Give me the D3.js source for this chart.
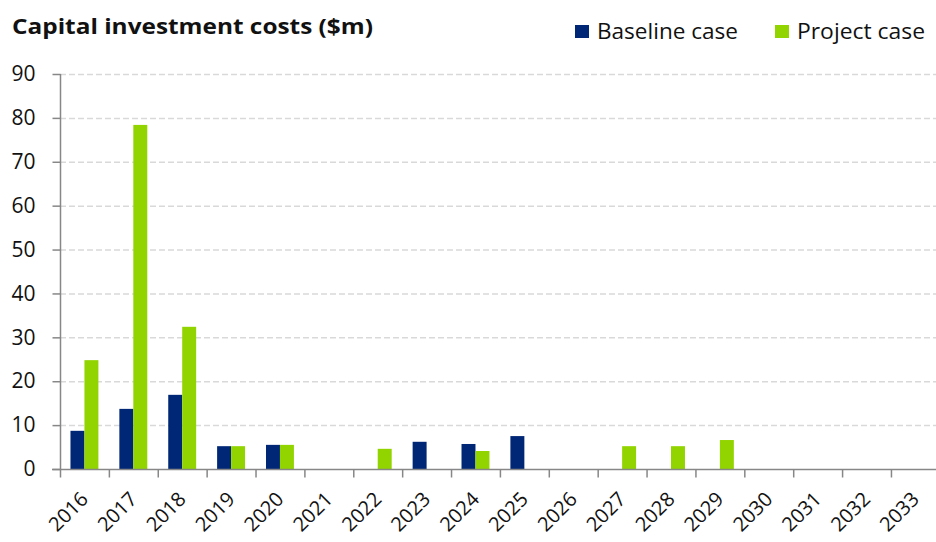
<!DOCTYPE html>
<html>
<head>
<meta charset="utf-8">
<script src="https://cdn.jsdelivr.net/npm/d3@7"></script>
<style>
  body { margin: 0; background: #fff; }
  svg { display: block; font-family: "Open Sans", sans-serif; }
</style>
</head>
<body>
<svg id="chart" width="936" height="542"></svg>
<script>
const years = ["2016", "2017", "2018", "2019", "2020", "2021", "2022", "2023", "2024",
  "2025", "2026", "2027", "2028", "2029", "2030", "2031", "2032", "2033"];
const baseline = [8.7, 13.7, 16.9, 5.2, 5.5, 0, 0, 6.2, 5.7, 7.5, 0, 0, 0, 0, 0, 0, 0, 0];
const project = [24.8, 78.4, 32.4, 5.2, 5.5, 0, 4.6, 0, 4.1, 0, 0, 5.2, 5.2, 6.6, 0, 0, 0, 0];
const yTicks = [0, 10, 20, 30, 40, 50, 60, 70, 80, 90];

const series = [
  { key: "Baseline case", values: baseline, color: "#002776" },
  { key: "Project case", values: project, color: "#92d400" },
];

const marginLeft = 60;
const bandStep = 48.88;
const yTop = 74;
const yBottom = 469;

const svg = d3.select("#chart");

const x0 = d3.scaleBand()
  .domain(years)
  .range([marginLeft, marginLeft + bandStep * years.length])
  .padding(0);

const x1 = d3.scaleBand()
  .domain(series.map((d) => d.key))
  .range([0, x0.bandwidth()])
  .paddingInner(0)
  .paddingOuter(0.75);

const y = d3.scaleLinear().domain([0, 90]).range([yBottom, yTop]);

// gridlines
svg.append("g")
  .selectAll("line")
  .data(yTicks.filter((d) => d > 0))
  .join("line")
  .attr("x1", marginLeft)
  .attr("x2", 936)
  .attr("y1", (d) => y(d) + 0.5)
  .attr("y2", (d) => y(d) + 0.5)
  .attr("stroke", "#d9d9d9")
  .attr("stroke-width", 1.5)
  .attr("stroke-dasharray", "6,3");

// bars
const group = svg.append("g")
  .selectAll("g")
  .data(years)
  .join("g")
  .attr("transform", (d) => `translate(${x0(d)},0)`);

group.selectAll("rect")
  .data((d, i) => series.map((s) => ({ key: s.key, color: s.color, value: s.values[i] })))
  .join("rect")
  .attr("x", (d) => x1(d.key))
  .attr("width", x1.bandwidth())
  .attr("y", (d) => y(d.value))
  .attr("height", (d) => y(0) - y(d.value))
  .attr("fill", (d) => d.color);

// y axis
const yAxis = svg.append("g")
  .attr("transform", `translate(${marginLeft + 0.5},0)`)
  .call(d3.axisLeft(y).tickValues(yTicks).tickSize(8).tickPadding(17))
  .call((g) => g.select(".domain").attr("d", `M0,${yTop}V${yBottom}`));
yAxis.selectAll("line, path").attr("stroke", "#878787").attr("stroke-width", 1.5);
yAxis.selectAll("text")
  .attr("font-size", 21)
  .attr("fill", "#111")
  .attr("font-family", "Open Sans, sans-serif");

// x axis
const xAxis = svg.append("g").attr("transform", `translate(0,${yBottom + 0.5})`);
xAxis.append("line")
  .attr("x1", marginLeft - 8)
  .attr("x2", 936)
  .attr("stroke", "#878787")
  .attr("stroke-width", 1.5);
xAxis.selectAll(".tick")
  .data(years)
  .join("line")
  .attr("x1", (d) => x0(d) + 0.5)
  .attr("x2", (d) => x0(d) + 0.5)
  .attr("y1", 0)
  .attr("y2", 8)
  .attr("stroke", "#878787")
  .attr("stroke-width", 1.5);
xAxis.selectAll("text")
  .data(years)
  .join("text")
  .attr("transform", (d) => `translate(${x0(d) + x0.bandwidth() / 2 + 5},${31}) rotate(-45)`)
  .attr("text-anchor", "end")
  .attr("font-size", 20)
  .attr("fill", "#111")
  .text((d) => d);

// title
svg.append("text")
  .attr("x", 12)
  .attr("y", 34)
  .attr("font-size", 22)
  .attr("font-weight", "bold")
  .attr("fill", "#111")
  .attr("textLength", 361)
  .attr("lengthAdjust", "spacingAndGlyphs")
  .text("Capital investment costs ($m)");

// legend
const legendX = [575, 775];
const legendW = [141, 128];
const legend = svg.append("g")
  .selectAll("g")
  .data(series)
  .join("g")
  .attr("transform", (d, i) => `translate(${legendX[i]},0)`);
legend.append("rect")
  .attr("y", 25)
  .attr("width", 14)
  .attr("height", 13)
  .attr("fill", (d) => d.color);
legend.append("text")
  .attr("x", 22)
  .attr("y", 39)
  .attr("font-size", 21)
  .attr("fill", "#111")
  .attr("textLength", (d, i) => legendW[i])
  .attr("lengthAdjust", "spacingAndGlyphs")
  .text((d) => d.key);
</script>
</body>
</html>
